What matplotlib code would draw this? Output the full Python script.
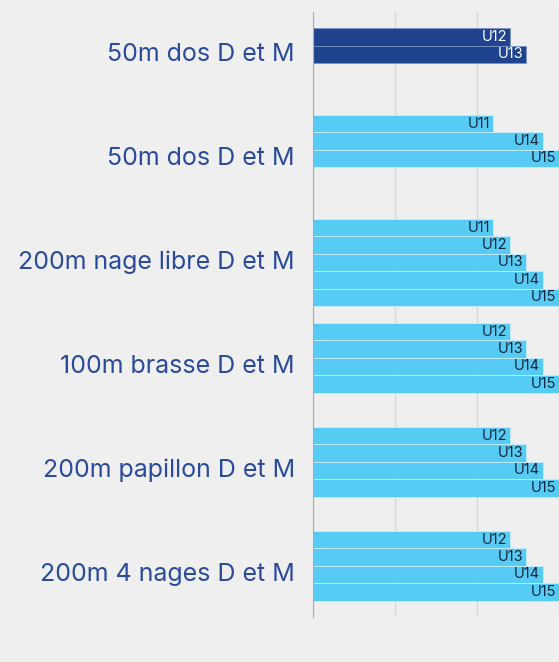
import matplotlib.pyplot as plt
import numpy as np

# events (top to bottom) and the age groups shown in each
events = ["50m dos D et M", "50m dos D et M", "200m nage libre D et M",
          "100m brasse D et M", "200m papillon D et M", "200m 4 nages D et M"]
ages = [
    ["U12", "U13"],
    ["U11", "U14", "U15"],
    ["U11", "U12", "U13", "U14", "U15"],
    ["U12", "U13", "U14", "U15"],
    ["U12", "U13", "U14", "U15"],
    ["U12", "U13", "U14", "U15"],
]
values = [
    [12, 13],
    [11, 14, 15],
    [11, 12, 13, 14, 15],
    [12, 13, 14, 15],
    [12, 13, 14, 15],
    [12, 13, 14, 15],
]
series = ["dark", "light", "light", "light", "light", "light"]
first_slot = [1, 0, 0, 0, 0, 0]

bg = "#efefef"
colors = {"dark": "#1f438f", "light": "#56ccf5"}
text_colors = {"dark": "white", "light": "#15243a"}

fig = plt.figure(figsize=(5.59, 6.62), dpi=100, facecolor=bg)
ax = fig.add_axes([313 / 559, 1 - 617 / 662, 1 - 313 / 559, 605 / 662])
ax.set_facecolor(bg)

band = 104.0
bar_h = 17.4 / band
pad = 11.0 / band

for i, (vals, labs) in enumerate(zip(values, ages)):
    for k, (v, lab) in enumerate(zip(vals, labs)):
        yc = i + pad + bar_h * (first_slot[i] + k + 0.5)
        ax.barh(yc, v, height=bar_h, color=colors[series[i]],
                edgecolor="#c9ecfa" if series[i] == "light" else "#7b93c4",
                linewidth=0.6, zorder=3)
        ax.text(v - 0.18, yc, lab, ha="right", va="center", fontsize=10.5,
                family="Inter", color=text_colors[series[i]], zorder=4)

ax.set_xlim(0, 15)
ax.set_ylim(617 / band, 12 / band)
ax.set_xticks([0, 5, 10, 15])
ax.grid(axis="x", color="#d3d6e0", linewidth=1, zorder=0)
ax.tick_params(length=0, labelbottom=False)
ax.set_yticks(np.arange(len(events)) + 0.5)
ax.set_yticklabels(events, fontsize=18, family="Inter", color="#2a4a9b")
ax.tick_params(axis="y", pad=13)
for s in ["top", "right", "bottom"]:
    ax.spines[s].set_visible(False)
ax.spines["left"].set_color("#a7acbd")
ax.spines["left"].set_zorder(5)

fig.savefig("out.png", dpi=100, facecolor=bg)
